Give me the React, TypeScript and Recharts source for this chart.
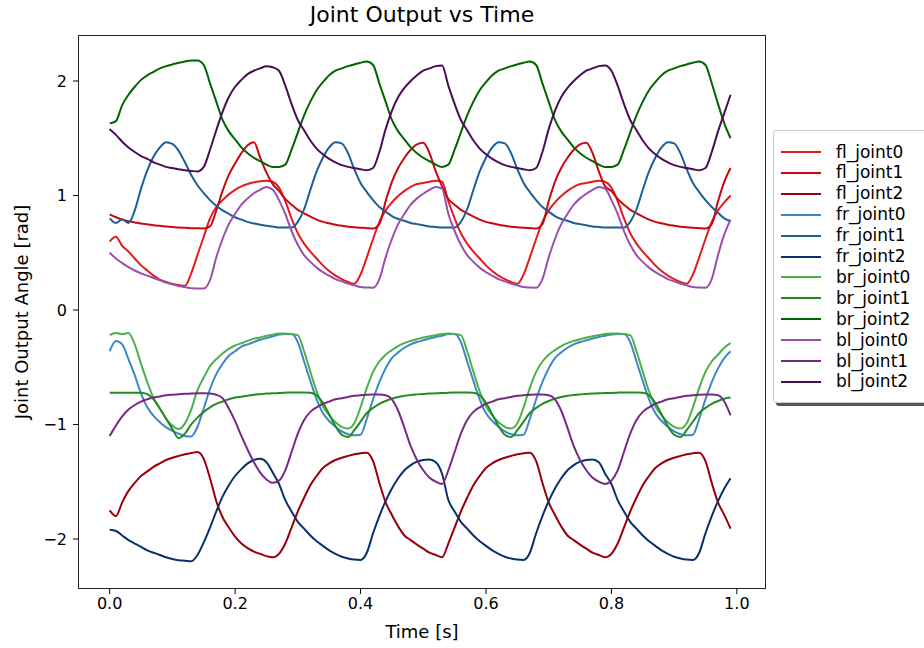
import React from 'react';
import { LineChart, Line, XAxis, YAxis } from 'recharts';

// sample times [s]
const time = [
  0, 0.01, 0.02, 0.03, 0.04, 0.05, 0.06, 0.07, 0.08, 0.09,
  0.1, 0.11, 0.12, 0.13, 0.14, 0.15, 0.16, 0.17, 0.18, 0.19,
  0.2, 0.21, 0.22, 0.23, 0.24, 0.25, 0.26, 0.27, 0.28, 0.29,
  0.3, 0.31, 0.32, 0.33, 0.34, 0.35, 0.36, 0.37, 0.38, 0.39,
  0.4, 0.41, 0.42, 0.43, 0.44, 0.45, 0.46, 0.47, 0.48, 0.49,
  0.5, 0.51, 0.52, 0.53, 0.54, 0.55, 0.56, 0.57, 0.58, 0.59,
  0.6, 0.61, 0.62, 0.63, 0.64, 0.65, 0.66, 0.67, 0.68, 0.69,
  0.7, 0.71, 0.72, 0.73, 0.74, 0.75, 0.76, 0.77, 0.78, 0.79,
  0.8, 0.81, 0.82, 0.83, 0.84, 0.85, 0.86, 0.87, 0.88, 0.89,
  0.9, 0.91, 0.92, 0.93, 0.94, 0.95, 0.96, 0.97, 0.98, 0.99,
];

const flJoint0 = [
  0.6, 0.64, 0.56, 0.51, 0.45, 0.39, 0.345, 0.3, 0.265, 0.245, 0.228, 0.218, 0.212, 0.32, 0.48, 0.64, 0.8, 0.9, 0.96, 1.01, 1.05, 1.08, 1.1, 1.115, 1.125, 1.13, 1.12,
  1.07, 0.95, 0.8, 0.67, 0.58, 0.51, 0.45, 0.39, 0.34, 0.3, 0.27, 0.245, 0.23, 0.31, 0.46, 0.62, 0.77, 0.87, 0.94, 0.995, 1.04, 1.075, 1.1, 1.11, 1.12, 1.13, 1.12,
  0.95, 0.8, 0.67, 0.58, 0.51, 0.45, 0.39, 0.34, 0.3, 0.27, 0.245, 0.23, 0.31, 0.46, 0.62, 0.77, 0.87, 0.94, 0.995, 1.04, 1.075, 1.1, 1.11, 1.12, 1.13, 1.12,
  1.07, 0.95, 0.8, 0.67, 0.58, 0.51, 0.45, 0.39, 0.34, 0.3, 0.27, 0.245, 0.23, 0.31, 0.46, 0.62, 0.77, 0.87, 0.94, 1.0,
];

const flJoint1 = [
  0.835, 0.81, 0.79, 0.775, 0.765, 0.755, 0.748, 0.74, 0.735, 0.73, 0.725, 0.72, 0.718, 0.715, 0.713, 0.712, 0.73, 0.87, 1.04, 1.18, 1.28, 1.37, 1.44, 1.465, 1.33, 1.2, 1.1,
  1.04, 0.97, 0.92, 0.875, 0.845, 0.815, 0.79, 0.77, 0.757, 0.745, 0.736, 0.728, 0.722, 0.718, 0.715, 0.712, 0.75, 0.95, 1.12, 1.24, 1.33, 1.4, 1.447, 1.46, 1.37, 1.21, 1.08,
  0.97, 0.92, 0.875, 0.845, 0.815, 0.79, 0.77, 0.757, 0.745, 0.736, 0.728, 0.722, 0.718, 0.715, 0.712, 0.75, 0.95, 1.12, 1.24, 1.33, 1.4, 1.447, 1.46, 1.37, 1.21, 1.08,
  1.04, 0.97, 0.92, 0.875, 0.845, 0.815, 0.79, 0.77, 0.757, 0.745, 0.736, 0.728, 0.722, 0.718, 0.715, 0.712, 0.75, 0.95, 1.12, 1.24,
];

const flJoint2 = [
  -1.75, -1.8, -1.68, -1.58, -1.51, -1.45, -1.41, -1.37, -1.34, -1.31, -1.29, -1.275, -1.26, -1.25, -1.24, -1.3, -1.47, -1.67, -1.81, -1.9, -1.98, -2.04, -2.08, -2.11, -2.13, -2.15, -2.16,
  -2.13, -2.04, -1.9, -1.76, -1.64, -1.53, -1.45, -1.38, -1.34, -1.31, -1.29, -1.275, -1.26, -1.252, -1.246, -1.32, -1.51, -1.68, -1.79, -1.89, -1.97, -2.01, -2.05, -2.085, -2.12, -2.14, -2.16,
  -2.04, -1.9, -1.76, -1.64, -1.53, -1.45, -1.38, -1.34, -1.31, -1.29, -1.275, -1.26, -1.252, -1.246, -1.32, -1.51, -1.68, -1.79, -1.89, -1.97, -2.01, -2.05, -2.085, -2.12, -2.14, -2.16,
  -2.13, -2.04, -1.9, -1.76, -1.64, -1.53, -1.45, -1.38, -1.34, -1.31, -1.29, -1.275, -1.26, -1.252, -1.246, -1.32, -1.51, -1.68, -1.79, -1.91,
];

const frJoint0 = [
  -0.36, -0.27, -0.3, -0.43, -0.57, -0.73, -0.85, -0.925, -0.98, -1.025, -1.055, -1.08, -1.1, -1.105, -1.02, -0.86, -0.69, -0.56, -0.47, -0.4, -0.36, -0.32, -0.3, -0.28, -0.26, -0.245, -0.23,
  -0.215, -0.21, -0.21, -0.28, -0.45, -0.62, -0.78, -0.9, -0.97, -1.02, -1.06, -1.085, -1.095, -1.09, -0.95, -0.78, -0.63, -0.51, -0.42, -0.37, -0.33, -0.3, -0.28, -0.265, -0.25, -0.235, -0.225,
  -0.21, -0.21, -0.28, -0.45, -0.62, -0.78, -0.9, -0.97, -1.02, -1.06, -1.085, -1.095, -1.09, -0.95, -0.78, -0.63, -0.51, -0.42, -0.37, -0.33, -0.3, -0.28, -0.265, -0.25, -0.235, -0.225,
  -0.215, -0.21, -0.21, -0.28, -0.45, -0.62, -0.78, -0.9, -0.97, -1.02, -1.06, -1.085, -1.095, -1.09, -0.95, -0.78, -0.63, -0.51, -0.42, -0.36,
];

const frJoint1 = [
  0.8, 0.76, 0.79, 0.76, 0.87, 1.06, 1.22, 1.34, 1.42, 1.465, 1.45, 1.39, 1.29, 1.18, 1.09, 1.02, 0.96, 0.91, 0.87, 0.84, 0.81, 0.79, 0.77, 0.755, 0.745, 0.735, 0.73,
  0.72, 0.72, 0.72, 0.77, 0.88, 1.05, 1.21, 1.33, 1.42, 1.465, 1.455, 1.37, 1.23, 1.11, 1.03, 0.96, 0.9, 0.86, 0.82, 0.795, 0.78, 0.76, 0.75, 0.74, 0.73, 0.725, 0.72,
  0.72, 0.72, 0.77, 0.88, 1.05, 1.21, 1.33, 1.42, 1.465, 1.455, 1.37, 1.23, 1.11, 1.03, 0.96, 0.9, 0.86, 0.82, 0.795, 0.78, 0.76, 0.75, 0.74, 0.73, 0.725, 0.72,
  0.72, 0.72, 0.72, 0.77, 0.88, 1.05, 1.21, 1.33, 1.42, 1.465, 1.455, 1.37, 1.23, 1.11, 1.03, 0.96, 0.9, 0.85, 0.8, 0.775,
];

const frJoint2 = [
  -1.92, -1.93, -1.97, -2.01, -2.04, -2.07, -2.1, -2.12, -2.14, -2.16, -2.175, -2.185, -2.19, -2.195, -2.14, -2.03, -1.9, -1.76, -1.63, -1.53, -1.45, -1.39, -1.34, -1.31, -1.3, -1.33, -1.42,
  -1.52, -1.66, -1.76, -1.85, -1.91, -1.97, -2.02, -2.06, -2.1, -2.13, -2.155, -2.17, -2.18, -2.183, -2.12, -1.95, -1.8, -1.67, -1.56, -1.47, -1.4, -1.355, -1.325, -1.31, -1.305, -1.33, -1.43,
  -1.66, -1.76, -1.85, -1.91, -1.97, -2.02, -2.06, -2.1, -2.13, -2.155, -2.17, -2.18, -2.183, -2.12, -1.95, -1.8, -1.67, -1.56, -1.47, -1.4, -1.355, -1.325, -1.31, -1.305, -1.33, -1.43,
  -1.52, -1.66, -1.76, -1.85, -1.91, -1.97, -2.02, -2.06, -2.1, -2.13, -2.155, -2.17, -2.18, -2.183, -2.12, -1.95, -1.8, -1.67, -1.56, -1.47,
];

const brJoint0 = [
  -0.22, -0.2, -0.21, -0.2, -0.3, -0.47, -0.63, -0.77, -0.86, -0.95, -1.01, -1.04, -0.99, -0.87, -0.7, -0.59, -0.49, -0.43, -0.38, -0.34, -0.31, -0.29, -0.27, -0.25, -0.24, -0.225, -0.215,
  -0.205, -0.205, -0.21, -0.22, -0.36, -0.54, -0.71, -0.84, -0.92, -0.98, -1.02, -1.035, -0.99, -0.85, -0.68, -0.54, -0.45, -0.39, -0.35, -0.315, -0.29, -0.27, -0.255, -0.24, -0.23, -0.22, -0.21,
  -0.205, -0.21, -0.22, -0.36, -0.54, -0.71, -0.84, -0.92, -0.98, -1.02, -1.035, -0.99, -0.85, -0.68, -0.54, -0.45, -0.39, -0.35, -0.315, -0.29, -0.27, -0.255, -0.24, -0.23, -0.22, -0.21,
  -0.205, -0.205, -0.21, -0.22, -0.36, -0.54, -0.71, -0.84, -0.92, -0.98, -1.02, -1.035, -0.99, -0.85, -0.68, -0.54, -0.45, -0.39, -0.33, -0.29,
];

const brJoint1 = [
  -0.722, -0.722, -0.722, -0.722, -0.722, -0.722, -0.735, -0.78, -0.86, -0.95, -1.04, -1.12, -1.08, -1.0, -0.94, -0.89, -0.85, -0.82, -0.8, -0.78, -0.765, -0.757, -0.75, -0.74, -0.735, -0.73, -0.728,
  -0.725, -0.722, -0.72, -0.72, -0.72, -0.722, -0.745, -0.81, -0.91, -1.015, -1.09, -1.11, -1.05, -0.975, -0.9, -0.855, -0.82, -0.795, -0.775, -0.76, -0.75, -0.742, -0.737, -0.733, -0.73, -0.728, -0.726,
  -0.722, -0.72, -0.72, -0.72, -0.722, -0.745, -0.81, -0.91, -1.015, -1.09, -1.11, -1.05, -0.975, -0.9, -0.855, -0.82, -0.795, -0.775, -0.76, -0.75, -0.742, -0.737, -0.733, -0.73, -0.728, -0.726,
  -0.725, -0.722, -0.72, -0.72, -0.72, -0.722, -0.745, -0.81, -0.91, -1.015, -1.09, -1.11, -1.05, -0.975, -0.9, -0.855, -0.82, -0.795, -0.775, -0.765,
];

const brJoint2 = [
  1.63, 1.65, 1.79, 1.88, 1.95, 2.01, 2.05, 2.08, 2.11, 2.13, 2.145, 2.16, 2.17, 2.18, 2.18, 2.14, 1.98, 1.82, 1.66, 1.56, 1.49, 1.42, 1.37, 1.33, 1.3, 1.27, 1.25,
  1.25, 1.27, 1.4, 1.55, 1.7, 1.82, 1.92, 1.99, 2.05, 2.09, 2.11, 2.13, 2.145, 2.16, 2.17, 2.14, 1.98, 1.82, 1.66, 1.56, 1.49, 1.42, 1.37, 1.33, 1.3, 1.27, 1.25,
  1.27, 1.4, 1.55, 1.7, 1.82, 1.92, 1.99, 2.05, 2.09, 2.11, 2.13, 2.145, 2.16, 2.17, 2.14, 1.98, 1.82, 1.66, 1.56, 1.49, 1.42, 1.37, 1.33, 1.3, 1.27, 1.25,
  1.25, 1.27, 1.4, 1.55, 1.7, 1.82, 1.92, 1.99, 2.05, 2.09, 2.11, 2.13, 2.145, 2.16, 2.17, 2.14, 1.98, 1.8, 1.63, 1.5,
];

const blJoint0 = [
  0.5, 0.45, 0.41, 0.375, 0.345, 0.32, 0.3, 0.28, 0.26, 0.24, 0.225, 0.21, 0.2, 0.19, 0.188, 0.187, 0.26, 0.46, 0.62, 0.75, 0.84, 0.92, 0.975, 1.02, 1.05, 1.075, 1.05,
  0.96, 0.84, 0.69, 0.57, 0.48, 0.42, 0.37, 0.33, 0.3, 0.27, 0.25, 0.23, 0.215, 0.2, 0.197, 0.195, 0.27, 0.46, 0.62, 0.75, 0.84, 0.92, 0.975, 1.015, 1.05, 1.075, 1.06,
  0.84, 0.69, 0.57, 0.48, 0.42, 0.37, 0.33, 0.3, 0.27, 0.25, 0.23, 0.215, 0.2, 0.197, 0.195, 0.27, 0.46, 0.62, 0.75, 0.84, 0.92, 0.975, 1.015, 1.05, 1.075, 1.06,
  0.96, 0.84, 0.69, 0.57, 0.48, 0.42, 0.37, 0.33, 0.3, 0.27, 0.25, 0.23, 0.215, 0.2, 0.197, 0.195, 0.27, 0.48, 0.66, 0.79,
];

const blJoint1 = [
  -1.1, -1.01, -0.93, -0.87, -0.83, -0.8, -0.78, -0.765, -0.755, -0.745, -0.74, -0.736, -0.732, -0.73, -0.728, -0.728, -0.73, -0.74, -0.77, -0.86, -0.97, -1.1, -1.22, -1.33, -1.42, -1.48, -1.51,
  -1.49, -1.4, -1.24, -1.08, -0.96, -0.89, -0.85, -0.82, -0.8, -0.78, -0.77, -0.76, -0.75, -0.745, -0.74, -0.738, -0.738, -0.745, -0.78, -0.88, -1.03, -1.19, -1.31, -1.4, -1.465, -1.5, -1.52,
  -1.4, -1.24, -1.08, -0.96, -0.89, -0.85, -0.82, -0.8, -0.78, -0.77, -0.76, -0.75, -0.745, -0.74, -0.738, -0.738, -0.745, -0.78, -0.88, -1.03, -1.19, -1.31, -1.4, -1.465, -1.5, -1.52,
  -1.49, -1.4, -1.24, -1.08, -0.96, -0.89, -0.85, -0.82, -0.8, -0.78, -0.77, -0.76, -0.75, -0.745, -0.74, -0.738, -0.738, -0.745, -0.8, -0.92,
];

const blJoint2 = [
  1.58, 1.53, 1.47, 1.42, 1.38, 1.345, 1.32, 1.29, 1.27, 1.25, 1.24, 1.23, 1.22, 1.215, 1.21, 1.25, 1.4, 1.57, 1.73, 1.86, 1.95, 2.01, 2.06, 2.09, 2.11, 2.13, 2.12,
  2.09, 1.96, 1.8, 1.66, 1.57, 1.48, 1.41, 1.36, 1.32, 1.29, 1.265, 1.25, 1.24, 1.23, 1.22, 1.24, 1.38, 1.58, 1.74, 1.86, 1.94, 2.0, 2.05, 2.09, 2.11, 2.13, 2.135,
  1.96, 1.8, 1.66, 1.57, 1.48, 1.41, 1.36, 1.32, 1.29, 1.265, 1.25, 1.24, 1.23, 1.22, 1.24, 1.38, 1.58, 1.74, 1.86, 1.94, 2.0, 2.05, 2.09, 2.11, 2.13, 2.135,
  2.09, 1.96, 1.8, 1.66, 1.57, 1.48, 1.41, 1.36, 1.32, 1.29, 1.265, 1.25, 1.24, 1.23, 1.22, 1.24, 1.38, 1.56, 1.72, 1.88,
];

const xTicks = [0, 0.2, 0.4, 0.6, 0.8, 1.0];
const yTicks = [-2, -1, 0, 1, 2];

const series = [
  { name: 'fl_joint0', color: '#e41a1c', values: flJoint0 },
  { name: 'fl_joint1', color: '#c8080f', values: flJoint1 },
  { name: 'fl_joint2', color: '#99000d', values: flJoint2 },
  { name: 'fr_joint0', color: '#3e86c4', values: frJoint0 },
  { name: 'fr_joint1', color: '#1b5f98', values: frJoint1 },
  { name: 'fr_joint2', color: '#08306b', values: frJoint2 },
  { name: 'br_joint0', color: '#4cb04a', values: brJoint0 },
  { name: 'br_joint1', color: '#238b22', values: brJoint1 },
  { name: 'br_joint2', color: '#006400', values: brJoint2 },
  { name: 'bl_joint0', color: '#9b4fac', values: blJoint0 },
  { name: 'bl_joint1', color: '#762a83', values: blJoint1 },
  { name: 'bl_joint2', color: '#4a0c58', values: blJoint2 },
];

const rows = time.map((t, i) => {
  const row: Record<string, number> = { t };
  series.forEach((s) => {
    row[s.name] = s.values[i];
  });
  return row;
});

const font = '"DejaVu Sans", "Liberation Sans", sans-serif';
const fmtY = (v: number) => (v < 0 ? '\u2212' + Math.abs(v) : String(v));

const Legend = () => (
  <div
    style={{
      position: 'absolute',
      left: 773,
      top: 130,
      width: 170,
      height: 273,
      background: '#fff',
      border: '1px solid #ccc',
      borderRadius: 3,
      boxShadow: '3px 3px 0 #555',
      boxSizing: 'border-box',
    }}
  >
    {series.map((s, i) => (
      <div
        key={s.name}
        style={{ position: 'absolute', left: 0, top: 10.5 + i * 20.9, height: 21, display: 'flex', alignItems: 'center' }}
      >
        <div style={{ width: 40, height: 2, marginLeft: 7, background: s.color }} />
        <div style={{ marginLeft: 15, fontSize: 17, lineHeight: '21px', color: '#000', whiteSpace: 'nowrap' }}>
          {s.name}
        </div>
      </div>
    ))}
  </div>
);

export default function App() {
  return (
    <div
      style={{
        position: 'absolute',
        left: 0,
        top: 0,
        width: 924,
        height: 648,
        overflow: 'hidden',
        background: '#fff',
        fontFamily: font,
      }}
    >
      <div style={{ position: 'absolute', left: 0, width: 844, top: 2, textAlign: 'center', fontSize: 22 }}>
        Joint Output vs Time
      </div>
      <LineChart width={924} height={648} data={rows} margin={{ top: 35, right: 158, bottom: 29, left: 28 }}>
        <XAxis
          dataKey="t"
          type="number"
          domain={[-0.0505, 1.0465]}
          allowDataOverflow
          ticks={xTicks}
          interval={0}
          tickFormatter={(v: number) => v.toFixed(1)}
          axisLine={false}
          tickLine={{ stroke: '#000' }}
          tickSize={5}
          tickMargin={4}
          height={30}
          tick={{ fill: '#000', fontSize: 16, fontFamily: font }}
        />
        <YAxis
          type="number"
          domain={[-2.437, 2.402]}
          allowDataOverflow
          ticks={yTicks}
          interval={0}
          tickFormatter={fmtY}
          axisLine={false}
          tickLine={{ stroke: '#000' }}
          tickSize={5}
          tickMargin={6}
          width={50}
          tick={{ fill: '#000', fontSize: 16, fontFamily: font }}
        />
        {series.map((s) => (
          <Line
            key={s.name}
            type="monotone"
            dataKey={s.name}
            stroke={s.color}
            strokeWidth={2}
            dot={false}
            isAnimationActive={false}
          />
        ))}
      </LineChart>
      <div
        style={{
          position: 'absolute',
          left: 78,
          top: 35,
          width: 688,
          height: 554,
          border: '1px solid #222',
          boxSizing: 'border-box',
          pointerEvents: 'none',
        }}
      />
      <div style={{ position: 'absolute', left: 0, width: 844, top: 621, textAlign: 'center', fontSize: 18 }}>
        Time [s]
      </div>
      <div
        style={{
          position: 'absolute',
          left: 21,
          top: 312,
          transform: 'translate(-50%, -50%) rotate(-90deg)',
          whiteSpace: 'nowrap',
          fontSize: 18,
        }}
      >
        Joint Output Angle [rad]
      </div>
      <Legend />
    </div>
  );
}
